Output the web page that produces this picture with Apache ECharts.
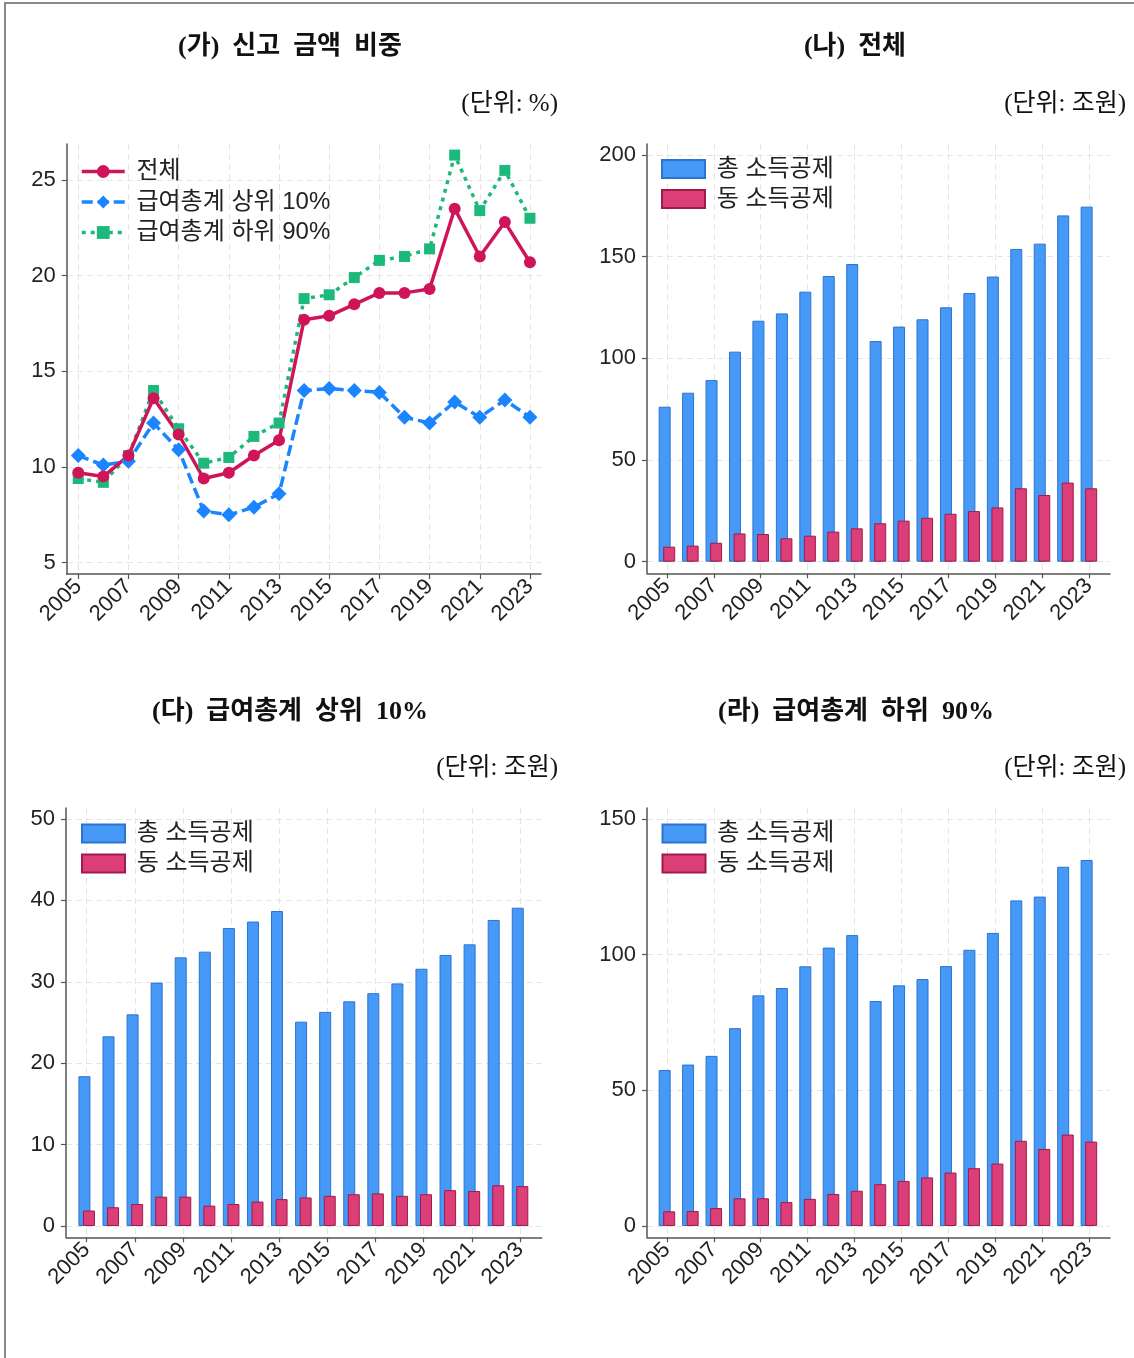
<!DOCTYPE html>
<html lang="ko">
<head>
<meta charset="utf-8">
<title>소득공제 신고 현황</title>
<script src="https://cdn.jsdelivr.net/npm/echarts@6/dist/echarts.min.js"></script>
<style>
  html, body { margin: 0; padding: 0; background: #ffffff; }
  #wrap { position: relative; width: 1134px; height: 1358px; overflow: hidden; }
  #frame { position: absolute; left: 4px; top: 2px; width: 1200px; height: 1400px;
           border-left: 2px solid #8a8a8a; border-top: 2px solid #8a8a8a; }
  #chart { position: absolute; left: 0; top: 0; width: 1134px; height: 1358px; }
</style>
</head>
<body>
<div id="wrap">
  <div id="frame"></div>
  <div id="chart"></div>
</div>
<script>
// 연도
const years = [2005, 2006, 2007, 2008, 2009, 2010, 2011, 2012, 2013, 2014,
               2015, 2016, 2017, 2018, 2019, 2020, 2021, 2022, 2023];

// (가) 신고 금액 비중 (%)
const shareTotal    = [9.7, 9.5, 10.6, 13.6, 11.7, 9.4, 9.7, 10.6, 11.4, 17.7,
                       17.9, 18.5, 19.1, 19.1, 19.3, 23.5, 21.0, 22.8, 20.7];
const shareTop10    = [10.6, 10.1, 10.3, 12.3, 10.9, 7.7, 7.5, 7.9, 8.6, 14.0,
                       14.1, 14.0, 13.9, 12.6, 12.3, 13.4, 12.6, 13.5, 12.6];
const shareBottom90 = [9.4, 9.2, 10.6, 14.0, 12.0, 10.2, 10.5, 11.6, 12.3, 18.8,
                       19.0, 19.9, 20.8, 21.0, 21.4, 26.3, 23.4, 25.5, 23.0];

// (나) 전체 (조원)
const allTotal  = [76.2, 83.1, 89.3, 103.3, 118.5, 122.1, 132.8, 140.5, 146.4, 108.5,
                   115.6, 119.2, 125.1, 132.1, 140.2, 153.8, 156.4, 170.3, 174.6];
const allTarget = [7.4, 7.9, 9.3, 13.9, 13.6, 11.5, 12.8, 14.8, 16.4, 18.9,
                   20.2, 21.6, 23.6, 24.9, 26.7, 36.1, 32.8, 38.9, 36.1];

// (다) 급여총계 상위 10% (조원)
const top10Total  = [18.4, 23.3, 26.0, 29.9, 33.0, 33.7, 36.6, 37.4, 38.7, 25.1,
                     26.3, 27.6, 28.6, 29.8, 31.6, 33.3, 34.6, 37.6, 39.1];
const top10Target = [1.9, 2.3, 2.7, 3.6, 3.6, 2.5, 2.7, 3.0, 3.3, 3.5,
                     3.7, 3.9, 4.0, 3.7, 3.9, 4.4, 4.3, 5.0, 4.9];

// (라) 급여총계 하위 90% (조원)
const bottom90Total  = [57.5, 59.5, 62.7, 72.9, 85.0, 87.7, 95.7, 102.6, 107.2, 82.9,
                        88.7, 91.0, 95.8, 101.8, 108.0, 120.0, 121.4, 132.4, 134.9];
const bottom90Target = [5.4, 5.5, 6.6, 10.2, 10.2, 8.8, 10.0, 11.8, 13.0, 15.4,
                        16.6, 17.9, 19.7, 21.3, 23.0, 31.4, 28.4, 33.7, 31.1];

// 눈금
const xTicks        = [2005, 2007, 2009, 2011, 2013, 2015, 2017, 2019, 2021, 2023];
const yTicksShare   = [5, 10, 15, 20, 25];
const yTicksAll     = [0, 50, 100, 150, 200];
const yTicksTop10   = [0, 10, 20, 30, 40, 50];
const yTicksBottom  = [0, 50, 100, 150];

// 제목과 범례 문구
const panelTitles = ['(가)\u2002신고\u2002금액\u2002비중', '(나)\u2002전체',
                     '(다)\u2002급여총계\u2002상위\u200210%', '(라)\u2002급여총계\u2002하위\u200290%'];
const unitShare = '(단위: %)';
const unitWon   = '(단위: 조원)';
const lineNames = ['전체', '급여총계 상위 10%', '급여총계 하위 90%'];
const barNames  = ['총 소득공제', '동 소득공제'];

const SANS  = "'Liberation Sans', 'Noto Sans CJK KR', sans-serif";
const SERIF = "'Liberation Serif', 'Noto Sans CJK KR', serif";

const C_RED = '#D0145A', C_BLUE = '#1A85FF', C_GREEN = '#1DB97A';
const BAR_BLUE = '#4799F7', BAR_BLUE_EDGE = '#2B74CF';
const BAR_RED = '#DC3E77', BAR_RED_EDGE = '#A01A4A';

const axisColor = '#555555';
const gridLine = { show: true, lineStyle: { color: '#e4e4e4', width: 1, type: [6, 4] } };

function pairs(vals) { return years.map((y, i) => [y, vals[i]]); }

function xAxis(gridIndex, min, max) {
  return {
    type: 'value', gridIndex, min, max,
    axisLine: { show: true, onZero: false, lineStyle: { color: axisColor, width: 1.5 } },
    axisTick: { show: true, length: 5, customValues: xTicks, lineStyle: { color: axisColor, width: 1.2 } },
    axisLabel: { customValues: xTicks, rotate: 45, margin: 9, formatter: v => String(v),
                 fontSize: 22, color: '#222', fontFamily: SANS },
    splitLine: gridLine
  };
}

function yAxis(gridIndex, min, max, ticks) {
  return {
    type: 'value', gridIndex, min, max,
    axisLine: { show: true, onZero: false, lineStyle: { color: axisColor, width: 1.5 } },
    axisTick: { show: true, length: 5, customValues: ticks, lineStyle: { color: axisColor, width: 1.2 } },
    axisLabel: { customValues: ticks, margin: 11, formatter: v => String(v),
                 fontSize: 22, color: '#222', fontFamily: SANS },
    splitLine: gridLine
  };
}

function barPair(idx, totalVals, targetVals) {
  return [
    { type: 'bar', name: barNames[0], xAxisIndex: idx, yAxisIndex: idx, data: pairs(totalVals),
      barWidth: 12, barGap: '-62%',
      itemStyle: { color: BAR_BLUE, borderColor: BAR_BLUE_EDGE, borderWidth: 1 } },
    { type: 'bar', name: barNames[1], xAxisIndex: idx, yAxisIndex: idx, data: pairs(targetVals),
      barWidth: 12, barGap: '-62%',
      itemStyle: { color: BAR_RED, borderColor: BAR_RED_EDGE, borderWidth: 1 } }
  ];
}

function barLegend(left, top) {
  return { left, top, padding: 0, orient: 'vertical', icon: 'rect',
           itemWidth: 43, itemHeight: 18, itemGap: 6, data: barNames,
           formatter: n => ' ' + n,
           textStyle: { fontSize: 24, color: '#222', fontFamily: SANS } };
}

function titleAt(text, cx, top) {
  return { text, left: cx, top, textAlign: 'center', padding: 0,
           textStyle: { fontFamily: SERIF, fontWeight: 'bold', fontSize: 26, color: '#111' } };
}
function unitAt(text, rightEdge, top) {
  return { text, right: 1134 - rightEdge, top, padding: 0,
           textStyle: { fontFamily: SERIF, fontWeight: 'normal', fontSize: 25, color: '#111' } };
}

const option = {
  animation: false,
  backgroundColor: 'transparent',
  title: [
    titleAt(panelTitles[0], 290, 34), titleAt(panelTitles[1], 855, 34),
    titleAt(panelTitles[2], 290, 699), titleAt(panelTitles[3], 856, 699),
    unitAt(unitShare, 558, 92), unitAt(unitWon, 1126, 92),
    unitAt(unitWon, 558, 756), unitAt(unitWon, 1126, 756)
  ],
  grid: [
    { left: 66.7, top: 144, width: 474.3, height: 430 },
    { left: 647, top: 144, width: 463, height: 429.3 },
    { left: 66, top: 808, width: 475.7, height: 429.3 },
    { left: 647, top: 808, width: 463, height: 429.3 }
  ],
  xAxis: [
    xAxis(0, 2004.54, 2023.44),
    xAxis(1, 2004.15, 2023.9),
    xAxis(2, 2004.14, 2023.9),
    xAxis(3, 2004.15, 2023.9)
  ],
  yAxis: [
    yAxis(0, 4.41, 26.88, yTicksShare),
    yAxis(1, -5.7, 205.4, yTicksAll),
    yAxis(2, -1.39, 51.35, yTicksTop10),
    yAxis(3, -4.17, 154.05, yTicksBottom)
  ],
  legend: [
    { left: 80, top: 159.5, padding: 0, orient: 'vertical', itemWidth: 43, itemHeight: 16, itemGap: 6.5,
      data: lineNames, formatter: n => ' ' + n,
      lineStyle: { width: 3.5 },
      textStyle: { fontSize: 24, color: '#222', fontFamily: SANS } },
    barLegend(661, 157),
    barLegend(81, 821.5),
    barLegend(661.5, 821.5)
  ],
  series: [
    { type: 'line', name: lineNames[2], xAxisIndex: 0, yAxisIndex: 0, data: pairs(shareBottom90),
      symbol: 'rect', symbolSize: 11,
      lineStyle: { color: C_GREEN, width: 3.5, type: [4, 5] }, itemStyle: { color: C_GREEN } },
    { type: 'line', name: lineNames[1], xAxisIndex: 0, yAxisIndex: 0, data: pairs(shareTop10),
      symbol: 'diamond', symbolSize: 15,
      lineStyle: { color: C_BLUE, width: 3.5, type: [11, 5] }, itemStyle: { color: C_BLUE } },
    { type: 'line', name: lineNames[0], xAxisIndex: 0, yAxisIndex: 0, data: pairs(shareTotal),
      symbol: 'circle', symbolSize: 12,
      lineStyle: { color: C_RED, width: 3.5 }, itemStyle: { color: C_RED } },
    ...barPair(1, allTotal, allTarget),
    ...barPair(2, top10Total, top10Target),
    ...barPair(3, bottom90Total, bottom90Target)
  ]
};

const chart = echarts.init(document.getElementById('chart'), null, { renderer: 'canvas' });
chart.setOption(option);
</script>
</body>
</html>
